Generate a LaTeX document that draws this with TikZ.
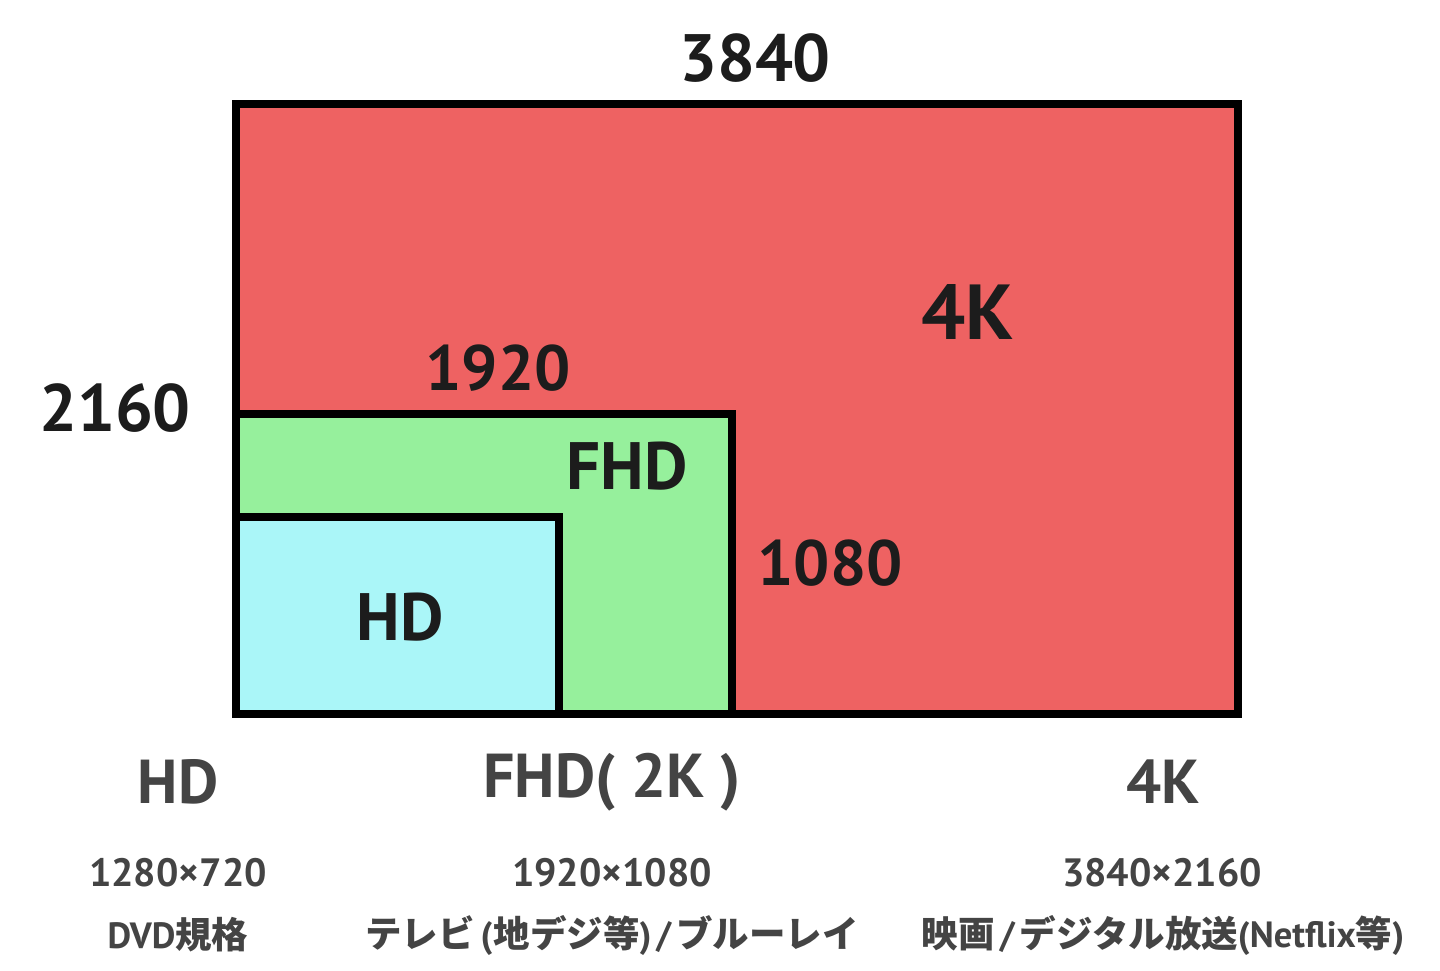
\documentclass[tikz,border=0pt]{standalone}
\usepackage{fontspec}
\setmainfont{PT Sans}
\newfontfamily\jp{Noto Sans CJK JP}
\usetikzlibrary{positioning}
\definecolor{uhdred}{HTML}{EE6262}
\definecolor{fhdgreen}{HTML}{96F09C}
\definecolor{hdcyan}{HTML}{AAF6F8}
\definecolor{inkdark}{HTML}{1C1C1C}
\definecolor{inkgray}{HTML}{444444}

\begin{document}
\begin{tikzpicture}[
  x=1pt, y=-1pt,
  screen/.style={draw=black, line width=8pt},
  dimlbl/.style={font=\fontsize{67}{70}\selectfont\bfseries, text=inkdark, inner sep=0pt},
  namelbl/.style={font=\fontsize{62}{66}\selectfont\bfseries, text=inkgray, inner sep=0pt},
  reslbl/.style={font=\fontsize{39.5}{42}\selectfont\bfseries, text=inkgray, inner sep=0pt},
  uselbl/.style={font=\fontsize{36.5}{38}\selectfont\bfseries, text=inkgray, inner sep=0pt}
]
\useasboundingbox[fill=white] (0,0) rectangle (1440,971);

% screens
\draw[screen, fill=uhdred] (236,104) rectangle (1238,714);
\draw[screen, fill=fhdgreen] (236,414) rectangle (732,714);
\draw[screen, fill=hdcyan] (236,517) rectangle (559,714);

% dimensions and names in the picture
\node[dimlbl] (w4k) at (755,58) {3840};
\node[dimlbl] (h4k) at (115,408) {2160};
\node[dimlbl, font=\fontsize{78}{80}\selectfont\bfseries] (in4k) at (968,312) {4K};
\node[dimlbl, font=\fontsize{64}{66}\selectfont\bfseries] (wfhd) at (498,368) {1920};
\node[dimlbl] (infhd) at (627,466) {FHD};
\node[dimlbl, font=\fontsize{64}{66}\selectfont\bfseries] (hfhd) at (830,563) {1080};
\node[dimlbl] (inhd) at (400,617) {HD};

% captions
\node[namelbl] (nhd) at (178,782) {HD};
\node[namelbl] (nfhd) at (612,782) {FHD( 2K )};
\node[namelbl] (n4k) at (1163,782) {4K};

\node[reslbl] (rhd) at (178,873) {1280×720};
\node[reslbl] (rfhd) at (612,873) {1920×1080};
\node[reslbl] (r4k) at (1162,873) {3840×2160};

\node[uselbl] (uhd) at (178,935) {DVD{\jp\bfseries 規格}};
\node[uselbl] (ufhd) at (612,935) {{\jp\bfseries テレビ}\kern6pt(\kern1pt{\jp\bfseries 地デジ等})\kern5pt/\kern5pt{\jp\bfseries ブルーレイ}};
\node[uselbl] (u4k) at (1163,935) {{\jp\bfseries 映画}\kern5pt/\kern5pt{\jp\bfseries デジタル放送}(Netflix{\jp\bfseries 等})};
\end{tikzpicture}
\end{document}
